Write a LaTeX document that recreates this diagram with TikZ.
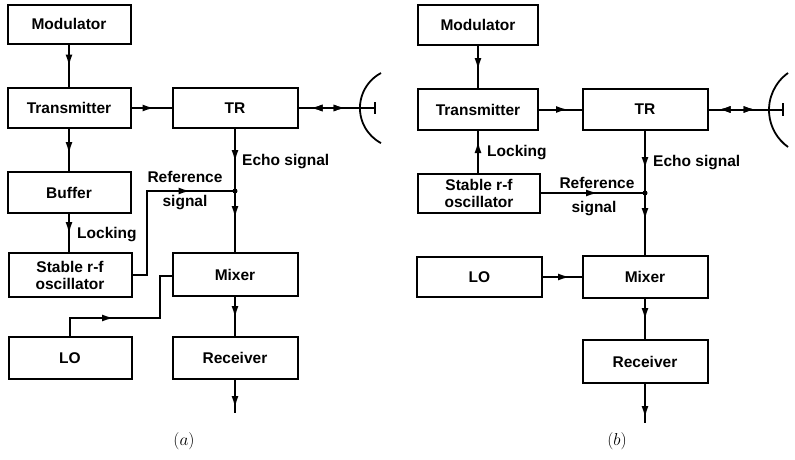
\documentclass[tikz,border=0pt]{standalone}
\usepackage{fontspec}
\setmainfont{Liberation Sans}
\usetikzlibrary{decorations.markings,arrows.meta}
\tikzset{
  blk/.style={draw, line width=2pt, minimum width=123pt, minimum height=40pt,
    inner sep=0pt, align=center, font=\fontsize{15.5}{17}\selectfont\bfseries},
  wire/.style={line width=2pt},
  fwd/.style={postaction={decorate}, decoration={markings,
    mark=at position #1 with {\arrow{Latex[length=12pt,width=7pt]}}}},
  bwd/.style={postaction={decorate}, decoration={markings,
    mark=at position #1 with {\arrowreversed{Latex[length=12pt,width=7pt]}}}},
  lbl/.style={inner sep=0pt, font=\fontsize{15.5}{17}\selectfont\bfseries},
  figcap/.style={inner sep=0pt, font=\fontsize{17}{20}\selectfont},
}
\begin{document}
\begin{tikzpicture}[x=1pt,y=-1pt]
\useasboundingbox (0,0) rectangle (795,459);

% ---------------- (a) ----------------
\node[blk, minimum height=39pt] (modA) at (69,24) {Modulator};
\node[blk] (txA) at (69,108) {Transmitter};
\node[blk, minimum width=125pt] (trA) at (235,108) {TR};
\node[blk, minimum height=41pt] (bufA) at (69,192.5) {Buffer};
\node[blk, minimum height=44pt] (oscA) at (70,275) {Stable r-f\\oscillator};
\node[blk, minimum width=125pt, minimum height=43pt] (mixA) at (235,274.5) {Mixer};
\node[blk, minimum height=42pt] (loA) at (70,358) {LO};
\node[blk, minimum width=125pt, minimum height=42pt] (rxA) at (235,358) {Receiver};
\coordinate (jA) at (235,191);
\coordinate (feedA) at (375,108);
\coordinate (outA) at (235,413);

\draw[wire, fwd=22pt] (modA.south) -- (txA.north);
\draw[wire, fwd=23pt] (txA.east) -- (trA.west);
\draw[wire, fwd=25pt] (txA.south) -- (bufA.north);
\draw[wire, fwd=20pt] (bufA.south -| 69,0) -- (oscA.north -| 69,0);
\draw[wire, fwd=33pt] (trA.south) -- (jA);
\draw[wire, fwd=27pt] (jA) -- (mixA.north);
\draw[wire, fwd=142pt] (oscA.east) -- (147,275) -- (147,191) -- (jA);
\fill (jA) circle (2.5pt);
\draw[wire, fwd=62pt] (loA.north) -- (70,318) -- (160,318) -- (160,276) -- (mixA.west |- 0,276);
\draw[wire, fwd=21pt] (mixA.south) -- (rxA.north);
\draw[wire, fwd=28pt] (rxA.south) -- (outA);
\draw[wire, bwd=12pt, fwd=47pt] (trA.east) -- (feedA);
\draw[wire] (375,102) -- (375,114);
\draw[line width=1.8pt] (381,73) arc[start angle=118, end angle=242, radius=39.7pt];

\node[lbl, anchor=west] (echoA) at (242,162) {Echo signal};
\node[lbl] (refA) at (185,177) {Reference};
\node[lbl] (sigA) at (185,203) {signal};
\node[lbl, anchor=west] (lockA) at (77,235) {Locking};
\node[figcap] (capA) at (184,441) {$(a)$};

% ---------------- (b) ----------------
\node[blk, minimum width=120pt] (modB) at (478,25) {Modulator};
\node[blk, minimum width=120pt, minimum height=41pt] (txB) at (478,109.5) {Transmitter};
\node[blk, minimum width=125pt, minimum height=41pt] (trB) at (645,109.5) {TR};
\node[blk, minimum width=122pt, minimum height=39pt] (oscB) at (479,193.5) {Stable r-f\\oscillator};
\node[blk, minimum width=125pt] (loB) at (479.5,277) {LO};
\node[blk, minimum width=125pt, minimum height=42pt] (mixB) at (645,277) {Mixer};
\node[blk, minimum width=125pt, minimum height=43pt] (rxB) at (645,361.5) {Receiver};
\coordinate (jB) at (645,193);
\coordinate (feedB) at (783,109.5);
\coordinate (outB) at (645,423);

\draw[wire, fwd=24pt] (modB.south) -- (txB.north);
\draw[wire, fwd=29pt] (txB.east) -- (trB.west);
\draw[wire, fwd=32pt] (oscB.north -| 478,0) -- (txB.south);
\draw[wire, fwd=38pt] (trB.south) -- (jB);
\draw[wire, fwd=27pt] (jB) -- (mixB.north);
\draw[wire, fwd=57pt] (oscB.east |- jB) -- (jB);
\fill (jB) circle (2.5pt);
\draw[wire, fwd=27pt] (loB.east) -- (mixB.west);
\draw[wire, fwd=21pt] (mixB.south) -- (rxB.north);
\draw[wire, fwd=34pt] (rxB.south) -- (outB);
\draw[wire, bwd=10pt, fwd=47pt] (trB.east) -- (feedB);
\draw[wire] (783,103) -- (783,116);
\draw[line width=1.8pt] (788,73) arc[start angle=125.6, end angle=234.4, radius=45.5pt];

\node[lbl, anchor=west] (lockB) at (487,153) {Locking};
\node[lbl, anchor=west] (echoB) at (653,163) {Echo signal};
\node[lbl] (refB) at (597,183) {Reference};
\node[lbl] (sigB) at (594,209) {signal};
\node[figcap] (capB) at (617,441) {$(b)$};
\end{tikzpicture}
\end{document}
